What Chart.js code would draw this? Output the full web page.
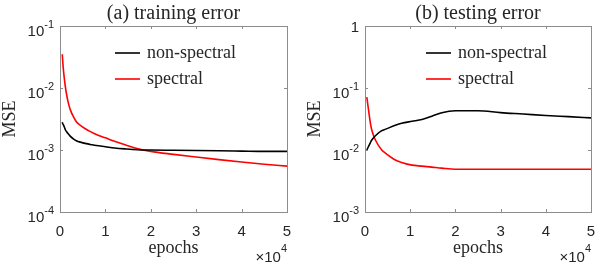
<!DOCTYPE html>
<html>
<head>
<meta charset="utf-8">
<script src="https://cdn.jsdelivr.net/npm/chart.js@4.4.0/dist/chart.umd.min.js"></script>
<style>
  body { margin: 0; background: #fff; }
  .wrap { position: absolute; top: 0; width: 305px; height: 266px; }
</style>
</head>
<body>
<div class="wrap" style="left:0"><canvas id="trainChart"></canvas></div>
<div class="wrap" style="left:305px"><canvas id="testChart"></canvas></div>
<script>
// epochs in units of 1e4
var xTicks = [0, 1, 2, 3, 4, 5];

var trainEpochs = [0.05, 0.065, 0.08, 0.1, 0.12, 0.15, 0.19, 0.23, 0.3, 0.37, 0.45, 0.55, 0.67, 0.8, 1.0, 1.2, 1.45, 1.7, 2, 2.5, 3, 3.5, 4, 4.5, 5];
var trainNonSpectral = [0.0028, 0.0026, 0.0025, 0.0023, 0.0021, 0.00195, 0.0018, 0.00166, 0.0015, 0.0014, 0.00134, 0.00128, 0.00123, 0.00118, 0.00113, 0.00108, 0.00104, 0.00101, 0.001, 0.00099, 0.00098, 0.00097, 0.00096, 0.00095, 0.00095];
var trainSpectral = [0.035, 0.024, 0.018, 0.0133, 0.0102, 0.0075, 0.0055, 0.0044, 0.0034, 0.0028, 0.0025, 0.00222, 0.00198, 0.00178, 0.00157, 0.00138, 0.0012, 0.00106, 0.00095, 0.00085, 0.00077, 0.0007, 0.00064, 0.00059, 0.00055];
var trainYTicks = [-4, -3, -2, -1];

var testEpochs = [0.04, 0.12, 0.15, 0.23, 0.37, 0.41, 0.67, 0.81, 1.04, 1.26, 1.48, 1.7, 2, 2.5, 3, 3.5, 4, 4.5, 5];
var testNonSpectral = [0.01, 0.0132, 0.0145, 0.017, 0.0205, 0.021, 0.025, 0.027, 0.029, 0.031, 0.035, 0.040, 0.043, 0.043, 0.040, 0.038, 0.036, 0.0345, 0.033];
var testSpectral = [0.071, 0.027, 0.021, 0.0145, 0.01, 0.0094, 0.0069, 0.0063, 0.0057, 0.0055, 0.0053, 0.0051, 0.0049, 0.0049, 0.0049, 0.0049, 0.0049, 0.0049, 0.0049];
var testYTicks = [-3, -2, -1, 0];

var serif = '"Liberation Serif", "DejaVu Serif", serif';
var sans = '"Liberation Sans", Arial, sans-serif';
var axisGray = '#8c8c8c';
var textColor = '#262626';

function toPoints(xs, ys) {
    return xs.map(function (x, i) { return { x: x, y: ys[i] }; });
}

// draws the MATLAB-style box, inside ticks, labels, legend
var decorPlugin = {
    id: 'decor',
    afterDraw: function (chart) {
        var o = chart.options.plugins.decor;
        var ctx = chart.ctx;
        var a = chart.chartArea;
        var xs = chart.scales.x, ys = chart.scales.y;
        ctx.save();

        ctx.strokeStyle = axisGray;
        ctx.lineWidth = 1;
        ctx.strokeRect(a.left + 0.5, a.top + 0.5, a.right - a.left, a.bottom - a.top);
        ctx.beginPath();
        xTicks.forEach(function (t) {
            var px = Math.round(xs.getPixelForValue(t)) + 0.5;
            ctx.moveTo(px, a.bottom); ctx.lineTo(px, a.bottom - 3);
            ctx.moveTo(px, a.top); ctx.lineTo(px, a.top + 3);
        });
        o.yTicks.forEach(function (e) {
            var py = Math.round(ys.getPixelForValue(Math.pow(10, e))) + 0.5;
            ctx.moveTo(a.left, py); ctx.lineTo(a.left + 3, py);
            ctx.moveTo(a.right, py); ctx.lineTo(a.right - 3, py);
        });
        ctx.stroke();

        ctx.fillStyle = textColor;
        ctx.textBaseline = 'alphabetic';
        // x tick labels
        ctx.font = '15px ' + sans;
        ctx.textAlign = 'center';
        xTicks.forEach(function (t) {
            ctx.fillText(String(t), xs.getPixelForValue(t), a.bottom + 24);
        });
        // y tick labels with exponents
        o.yTicks.forEach(function (e) {
            var py = ys.getPixelForValue(Math.pow(10, e));
            if (e === 0) {
                ctx.font = '15px ' + sans;
                ctx.textAlign = 'right';
                ctx.fillText('1', a.left - 6, py + 6);
                return;
            }
            var sup = String(e);
            ctx.font = '11px ' + sans;
            var sw = ctx.measureText(sup).width;
            ctx.textAlign = 'left';
            ctx.fillText(sup, a.left - 6 - sw, py + 2);
            ctx.font = '15px ' + sans;
            ctx.textAlign = 'right';
            ctx.fillText('10', a.left - 6 - sw, py + 10);
        });
        // x10^4
        ctx.textAlign = 'right';
        ctx.font = '11px ' + sans;
        var ew = ctx.measureText('4').width;
        ctx.fillText('4', a.right, a.bottom + 40);
        ctx.font = '15px ' + sans;
        ctx.fillText('\u00d710', a.right - ew, a.bottom + 50);

        // title, axis labels
        ctx.textAlign = 'center';
        ctx.font = '20px ' + serif;
        ctx.fillText(o.title, (a.left + a.right) / 2, 19);
        ctx.font = '18px ' + serif;
        ctx.fillText('epochs', (a.left + a.right) / 2, a.bottom + 41);
        ctx.save();
        ctx.translate(15, (a.top + a.bottom) / 2);
        ctx.rotate(-Math.PI / 2);
        ctx.fillText('MSE', 0, 0);
        ctx.restore();

        // legend
        ctx.font = '18px ' + serif;
        ctx.textAlign = 'left';
        chart.data.datasets.forEach(function (ds, i) {
            var ly = 53 + i * 26;
            ctx.strokeStyle = ds.borderColor;
            ctx.lineWidth = 1.6;
            ctx.beginPath();
            ctx.moveTo(o.legendX, ly); ctx.lineTo(o.legendX + 25, ly);
            ctx.stroke();
            ctx.fillStyle = textColor;
            ctx.fillText(ds.label, o.legendX + 32, ly + 5);
        });
        ctx.restore();
    }
};

function makeChart(id, title, epochs, nonSpec, spec, yTicks, legendX) {
    return new Chart(document.getElementById(id), {
        type: 'line',
        data: {
            datasets: [
                { label: 'non-spectral', data: toPoints(epochs, nonSpec), borderColor: '#000000', borderWidth: 1.6, pointRadius: 0, cubicInterpolationMode: 'monotone' },
                { label: 'spectral', data: toPoints(epochs, spec), borderColor: '#ff0000', borderWidth: 1.6, pointRadius: 0, cubicInterpolationMode: 'monotone' }
            ]
        },
        options: {
            responsive: false,
            animation: false,
            layout: { padding: { left: 60, right: 18, top: 26, bottom: 54 } },
            scales: {
                x: { type: 'linear', min: 0, max: 5, display: false },
                y: { type: 'logarithmic', min: Math.pow(10, yTicks[0]), max: Math.pow(10, yTicks[yTicks.length - 1]), display: false }
            },
            plugins: {
                legend: { display: false },
                tooltip: { enabled: false },
                decor: { title: title, yTicks: yTicks, legendX: legendX }
            }
        },
        plugins: [decorPlugin]
    });
}

var c1 = document.getElementById('trainChart');
c1.width = 305; c1.height = 266;
var c2 = document.getElementById('testChart');
c2.width = 304; c2.height = 266;

makeChart('trainChart', '(a) training error', trainEpochs, trainNonSpectral, trainSpectral, trainYTicks, 115);
makeChart('testChart', '(b) testing error', testEpochs, testNonSpectral, testSpectral, testYTicks, 121);
</script>
</body>
</html>
